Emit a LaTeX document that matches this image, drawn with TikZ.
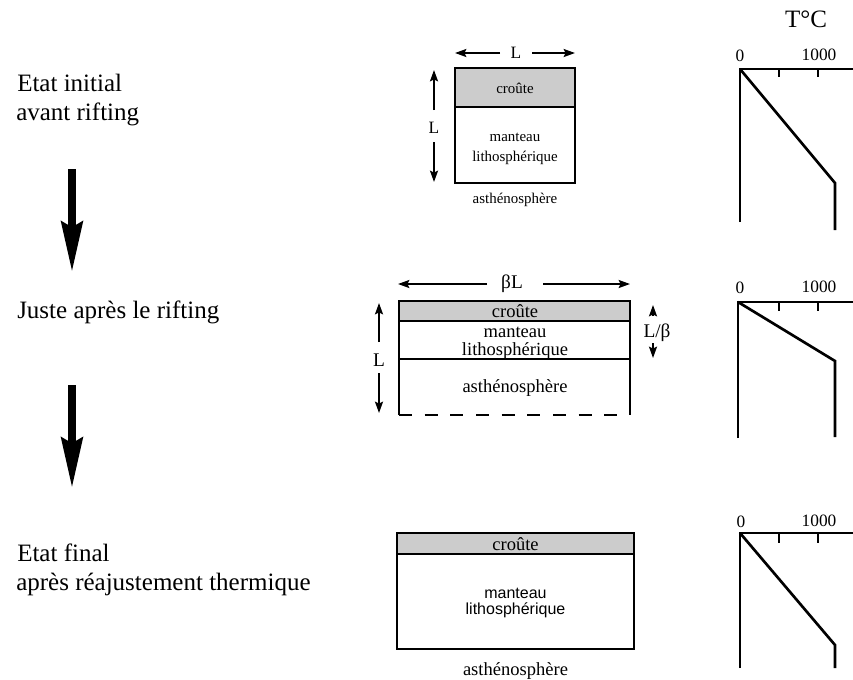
\documentclass[tikz,border=0pt]{standalone}
\usepackage{fontspec}
\setmainfont{Liberation Serif}
\newfontfamily\sansf{Liberation Sans}
\usetikzlibrary{arrows.meta}
\definecolor{crustgray}{RGB}{204,204,204}
\begin{document}
\begin{tikzpicture}[x=0.75pt,y=-0.75pt,
  stage/.style={font=\fontsize{18.75}{22}\selectfont, anchor=base west, inner sep=0pt},
  labA/.style={font=\fontsize{11.2}{13}\selectfont, anchor=base, inner sep=0pt},
  labB/.style={font=\fontsize{13.9}{16}\selectfont, anchor=base, inner sep=0pt},
  labS/.style={font=\sansf\fontsize{12}{14}\selectfont, anchor=base, inner sep=0pt},
  dimA/.style={font=\fontsize{13}{15}\selectfont, inner sep=0pt},
  dimB/.style={font=\fontsize{14.5}{17}\selectfont, inner sep=0pt},
  num/.style={font=\fontsize{13}{15}\selectfont, anchor=base, inner sep=0pt},
  boxline/.style={line width=1.5pt},
  plotline/.style={line width=2pt},
  dimarrow/.style={line width=1.5pt,-{Stealth[length=8.5pt,width=6pt,inset=1.5pt]}},
  bigarrow/.style={line width=6pt,-{Stealth[length=37.5pt,width=15.75pt,inset=4pt]}}
]
\useasboundingbox (0,0) rectangle (853,679);

% ---- stage texts
\node[stage] (s1a) at (17,91) {Etat initial};
\node[stage] (s1b) at (16,120) {avant rifting};
\node[stage] (s2)  at (17,318) {Juste après le rifting};
\node[stage] (s3a) at (17,561) {Etat final};
\node[stage] (s3b) at (16,590) {après réajustement thermique};

% ---- big arrows between stages
\coordinate (a1s) at (72,169);
\coordinate (a1e) at (72,272);
\coordinate (a2s) at (72,385);
\coordinate (a2e) at (72,488);
\draw[bigarrow] (a1s) -- (a1e);
\draw[bigarrow] (a2s) -- (a2e);

% ---- box 1 : initial state
\filldraw[boxline, fill=crustgray] (455,68) rectangle (575,107);
\draw[boxline] (455,107) rectangle (575,183);
\node[labA] (c1)  at (515,93)  {croûte};
\node[labA] (m1a) at (515,141) {manteau};
\node[labA] (m1b) at (515,161) {lithosphérique};
\node[labA] (as1) at (515,203) {asthénosphère};
\node[dimA] (L1h) at (516,53) {L};
\node[dimA] (L1v) at (434,128) {L};
\draw[dimarrow] (500,53) -- (455,53);
\draw[dimarrow] (532,53) -- (575,53);
\draw[dimarrow] (434,110) -- (434,70);
\draw[dimarrow] (434,142) -- (434,182);

% ---- box 2 : just after rifting
\fill[crustgray] (399,301) rectangle (630,321);
\draw[boxline] (399,415) -- (399,301) -- (630,301) -- (630,415);
\draw[line width=1pt] (399,321) -- (630,321);
\draw[boxline] (399,359) -- (630,359);
\draw[boxline, dash pattern=on 9.75pt off 9.5pt] (399,415) -- (630,415);
\node[labB] (c2)  at (515,317) {croûte};
\node[labB] (m2a) at (515,337) {manteau};
\node[labB] (m2b) at (515,355) {lithosphérique};
\node[labB] (as2) at (515,392) {asthénosphère};
\node[dimB] (bL)  at (512,284) {βL};
\node[dimB] (L2v) at (379,360) {L};
\node[dimB] (Lb)  at (657,333) {L/β};
\draw[dimarrow] (487,284) -- (398,284);
\draw[dimarrow] (543,284) -- (630,284);
\draw[dimarrow] (379,342) -- (379,303);
\draw[dimarrow] (379,373) -- (379,413);
\draw[dimarrow] (653,316) -- (653,305);
\draw[dimarrow] (653,343) -- (653,358);

% ---- box 3 : final state
\filldraw[boxline, fill=crustgray] (397,533) rectangle (634,554);
\draw[boxline] (397,554) rectangle (634,649);
\node[labB] (c3)  at (515.5,550) {croûte};
\node[labS] (m3a) at (515.5,598) {manteau};
\node[labS] (m3b) at (515.5,614) {lithosphérique};
\node[labB] (as3) at (515.5,675) {asthénosphère};

% ---- temperature profiles
\node[font=\fontsize{18.75}{22}\selectfont, anchor=base, inner sep=0pt] (TC) at (806,27) {T°C};

% plot 1
\node[num] (z1) at (740,61) {0};
\node[num] (k1) at (819,60) {1000};
\draw[plotline] (740,222) -- (740,69) -- (853,69);
\draw[plotline] (779,69) -- (779,77);
\draw[plotline] (818,69) -- (818,77);
\draw[plotline] (740,69) -- (835,183) -- (835,230);

% plot 2
\node[num] (z2) at (740,293) {0};
\node[num] (k2) at (819,292) {1000};
\draw[plotline] (738,438) -- (738,302) -- (853,302);
\draw[plotline] (779,302) -- (779,311);
\draw[plotline] (818,302) -- (818,311);
\draw[plotline] (738,302) -- (835,361) -- (835,437);

% plot 3
\node[num] (z3) at (741,527) {0};
\node[num] (k3) at (819,526) {1000};
\draw[plotline] (740,668) -- (740,533) -- (853,533);
\draw[plotline] (779,533) -- (779,543);
\draw[plotline] (818,533) -- (818,543);
\draw[plotline] (740,533) -- (835,645) -- (835,668);
\end{tikzpicture}
\end{document}
